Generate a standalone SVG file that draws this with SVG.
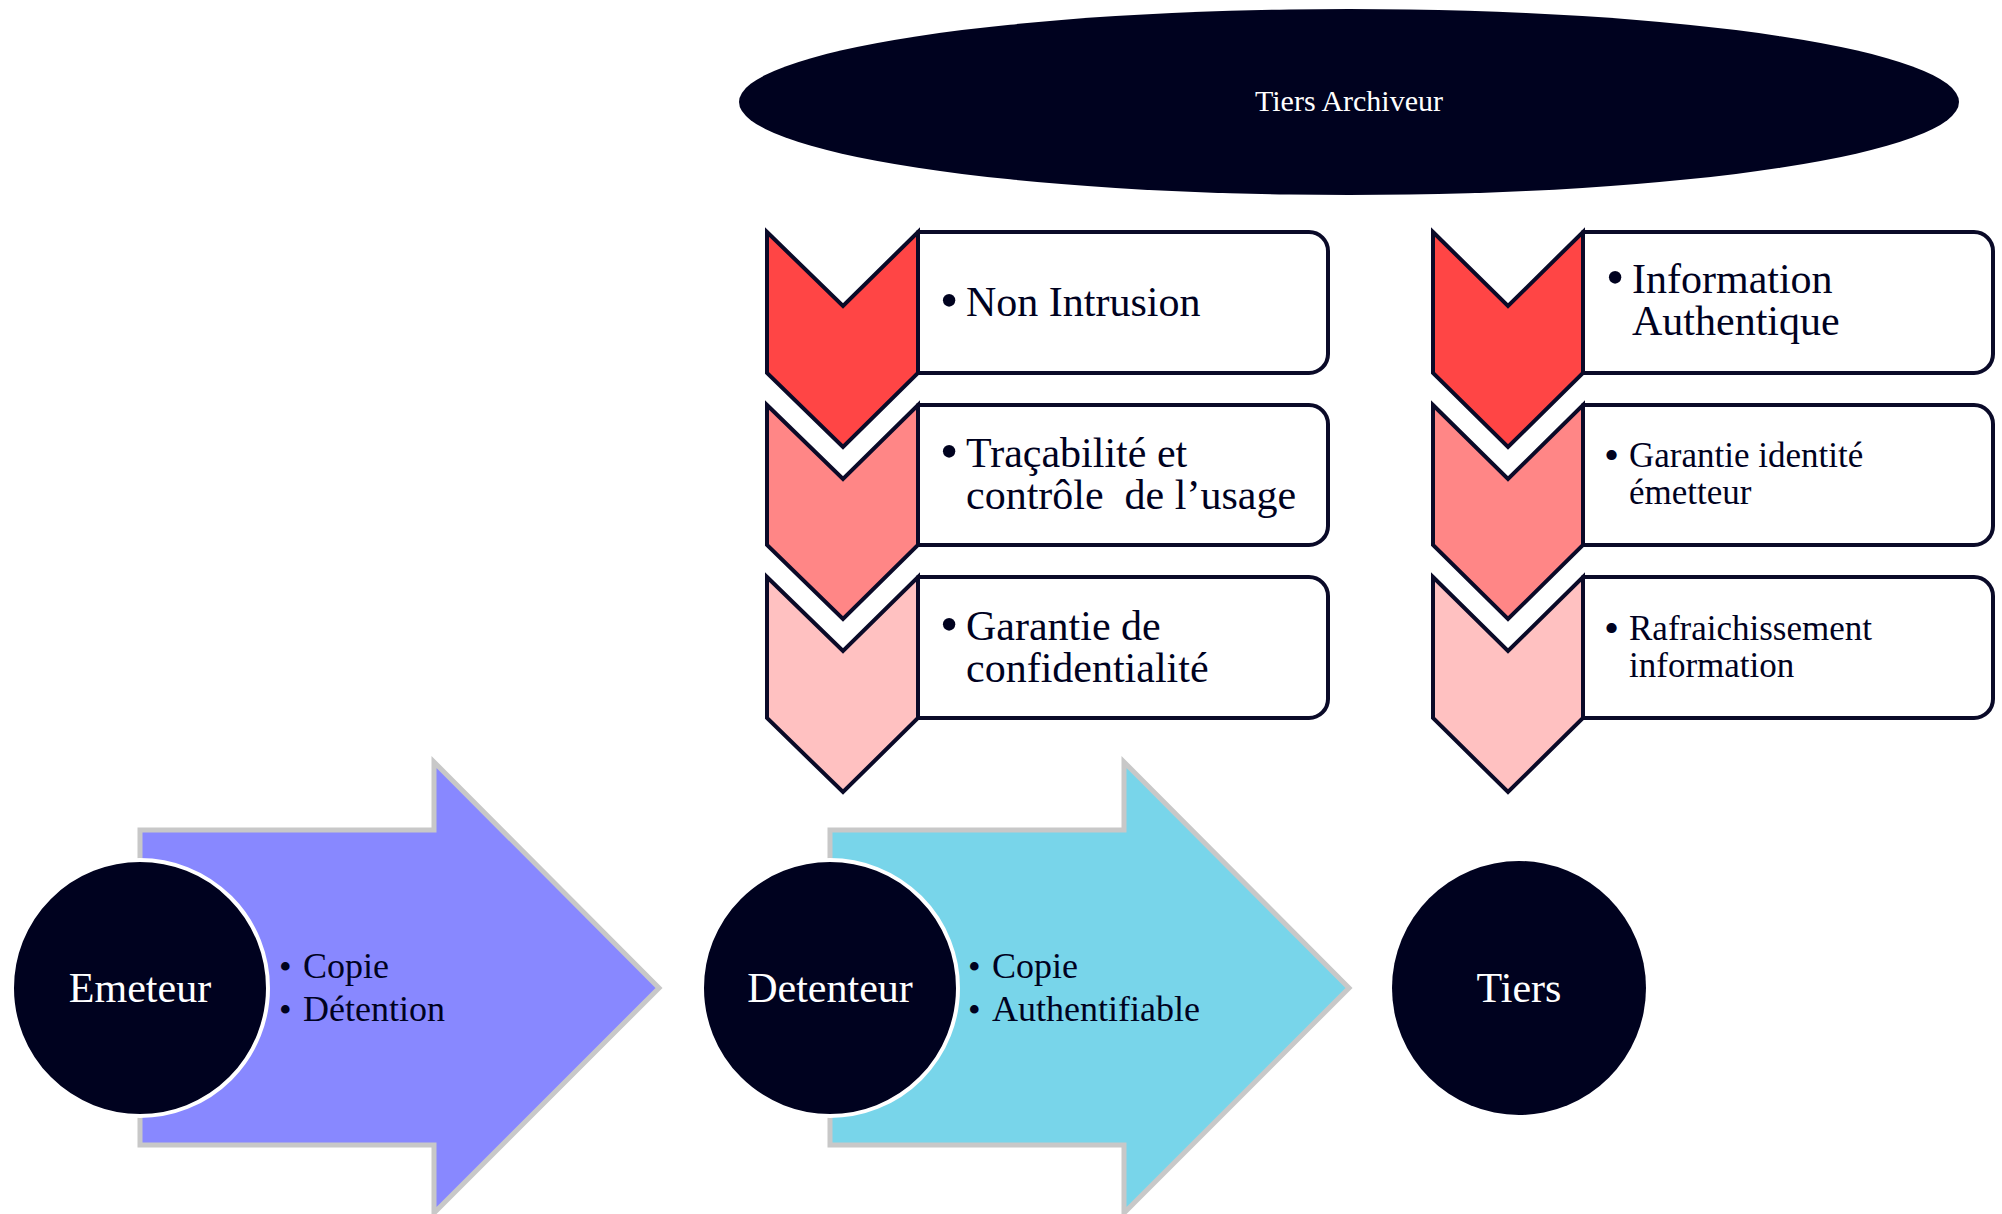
<svg xmlns="http://www.w3.org/2000/svg" width="2002" height="1214" viewBox="0 0 2002 1214">
<style>
.dark{fill:#00021f}
.box{fill:#ffffff;stroke:#0a0a28;stroke-width:4;stroke-linejoin:round}
.chev{stroke:#0a0a28;stroke-width:4;stroke-linejoin:miter}
.c1{fill:#ff4545}
.c2{fill:#ff8686}
.c3{fill:#ffc1c1}
.arrow{stroke:#c8c8c8;stroke-width:5}
.circ{fill:#00021f;stroke:#ffffff;stroke-width:4}
.t{font-family:"Liberation Serif","Times New Roman",serif;fill:#00021f}
.w{font-family:"Liberation Serif","Times New Roman",serif;fill:#ffffff}
.big{font-size:42px}
.mid{font-size:36px}
.sm{font-size:35px}
</style>

<g id="tiers-archiveur">
<ellipse cx="1349" cy="102" rx="610" ry="93" class="dark"/>
<text x="1349" y="111" class="w" font-size="30" text-anchor="middle">Tiers Archiveur</text>
</g>

<g id="non-intrusion">
<path class="box" d="M918,232 H1309 A19,19 0 0 1 1328,251 V354 A19,19 0 0 1 1309,373 H918 Z"/>
<path class="chev c1" d="M767,232 L843,306 L918,232 L918,373 L843,447 L767,373 Z"/>
<text x="940" y="318" class="t" font-size="52">•</text>
<text x="966" y="316" class="t big">Non Intrusion</text>
</g>

<g id="tracabilite">
<path class="box" d="M918,405 H1309 A19,19 0 0 1 1328,424 V526 A19,19 0 0 1 1309,545 H918 Z"/>
<path class="chev c2" d="M767,405 L843,479 L918,405 L918,545 L843,619 L767,545 Z"/>
<text x="940" y="469" class="t" font-size="52">•</text>
<text x="966" y="467" class="t big">Traçabilité et</text>
<text x="966" y="509" class="t big" xml:space="preserve">contrôle  de l’usage</text>
</g>

<g id="confidentialite">
<path class="box" d="M918,577 H1309 A19,19 0 0 1 1328,596 V699 A19,19 0 0 1 1309,718 H918 Z"/>
<path class="chev c3" d="M767,577 L843,651 L918,577 L918,718 L843,792 L767,718 Z"/>
<text x="940" y="642" class="t" font-size="52">•</text>
<text x="966" y="640" class="t big">Garantie de</text>
<text x="966" y="682" class="t big">confidentialité</text>
</g>

<g id="information-authentique">
<path class="box" d="M1583,232 H1974 A19,19 0 0 1 1993,251 V354 A19,19 0 0 1 1974,373 H1583 Z"/>
<path class="chev c1" d="M1433,232 L1508,306 L1583,232 L1583,373 L1508,447 L1433,373 Z"/>
<text x="1606" y="295" class="t" font-size="52">•</text>
<text x="1632" y="293" class="t big">Information</text>
<text x="1632" y="335" class="t big">Authentique</text>
</g>

<g id="garantie-identite">
<path class="box" d="M1583,405 H1974 A19,19 0 0 1 1993,424 V526 A19,19 0 0 1 1974,545 H1583 Z"/>
<path class="chev c2" d="M1433,405 L1508,479 L1583,405 L1583,545 L1508,619 L1433,545 Z"/>
<text x="1604" y="469" class="t" font-size="43">•</text>
<text x="1629" y="467" class="t sm">Garantie identité</text>
<text x="1629" y="504" class="t sm">émetteur</text>
</g>

<g id="rafraichissement">
<path class="box" d="M1583,577 H1974 A19,19 0 0 1 1993,596 V699 A19,19 0 0 1 1974,718 H1583 Z"/>
<path class="chev c3" d="M1433,577 L1508,651 L1583,577 L1583,718 L1508,792 L1433,718 Z"/>
<text x="1604" y="642" class="t" font-size="43">•</text>
<text x="1629" y="640" class="t sm">Rafraichissement</text>
<text x="1629" y="677" class="t sm">information</text>
</g>

<g id="connectors">
<path class="arrow" fill="#8888ff" d="M140,830 H434 V762 L659,988 L434,1213 V1145 H140 Z"/>
<path class="arrow" fill="#78d5ea" d="M830,830 H1124 V762 L1349,988 L1124,1213 V1145 H830 Z"/>
<text x="279" y="979" class="t mid">•</text>
<text x="303" y="978" class="t mid">Copie</text>
<text x="279" y="1022" class="t mid">•</text>
<text x="303" y="1021" class="t mid">Détention</text>
<text x="968" y="979" class="t mid">•</text>
<text x="992" y="978" class="t mid">Copie</text>
<text x="968" y="1022" class="t mid">•</text>
<text x="992" y="1021" class="t mid">Authentifiable</text>
</g>

<g id="emeteur">
<circle cx="140" cy="988" r="128" class="circ"/>
<text x="140" y="1002" class="w big" text-anchor="middle">Emeteur</text>
</g>

<g id="detenteur">
<circle cx="830" cy="988" r="128" class="circ"/>
<text x="830" y="1002" class="w big" text-anchor="middle">Detenteur</text>
</g>

<g id="tiers">
<circle cx="1519" cy="988" r="127" class="dark"/>
<text x="1519" y="1002" class="w big" text-anchor="middle">Tiers</text>
</g>
</svg>
